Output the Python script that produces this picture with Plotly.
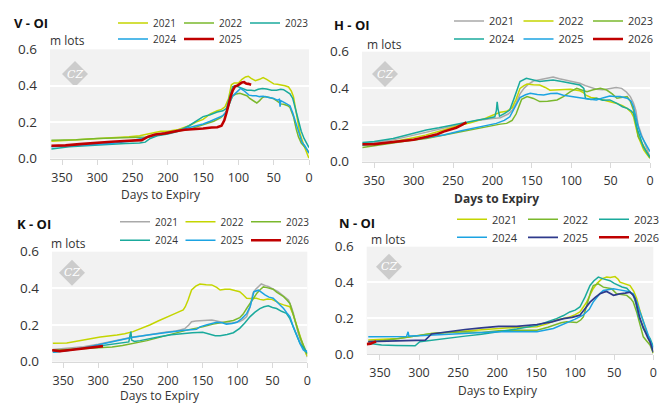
import plotly.graph_objects as go

W, H = 669, 407
OFF = 8                 # the page body margin the browser adds around the figure
FW, FH = W - OFF, H - OFF
FONT = "Open Sans"

# ---------------- data (days to expiry, open interest in m lots) ----------------
# V panel
V_2021_days = [365, 340, 310, 280, 255, 240, 225, 210, 200, 185, 170, 160, 150, 140, 130, 124, 119, 114, 110, 106, 100, 95, 90, 86, 82, 76, 70, 65, 60, 55, 50, 45, 39, 34, 29, 25, 22, 18, 13, 8, 4, 0]
V_2021_oi = [0.095, 0.100, 0.105, 0.112, 0.120, 0.125, 0.138, 0.150, 0.150, 0.160, 0.180, 0.200, 0.215, 0.245, 0.262, 0.270, 0.284, 0.330, 0.405, 0.415, 0.415, 0.435, 0.448, 0.452, 0.440, 0.428, 0.435, 0.445, 0.435, 0.420, 0.410, 0.408, 0.405, 0.400, 0.393, 0.370, 0.340, 0.250, 0.140, 0.080, 0.040, 0.000]
V_2022_days = [365, 330, 300, 270, 250, 230, 210, 190, 170, 150, 135, 125, 118, 113, 108, 103, 98, 93, 88, 84, 79, 74, 70, 66, 62, 57, 51, 45, 40, 36, 30, 27, 22, 18, 15, 11, 7, 3, 0]
V_2022_oi = [0.100, 0.103, 0.110, 0.112, 0.115, 0.118, 0.130, 0.148, 0.160, 0.185, 0.205, 0.225, 0.250, 0.300, 0.345, 0.355, 0.358, 0.352, 0.345, 0.330, 0.315, 0.305, 0.318, 0.335, 0.340, 0.335, 0.330, 0.315, 0.300, 0.298, 0.290, 0.280, 0.230, 0.160, 0.120, 0.085, 0.070, 0.050, 0.030]
V_2023_days = [365, 340, 310, 280, 260, 240, 232, 225, 215, 200, 185, 170, 160, 150, 140, 130, 122, 117, 112, 108, 104, 99, 94, 88, 82, 77, 72, 66, 60, 53, 46, 40, 36, 31, 27, 23, 19, 15, 11, 7, 3, 0]
V_2023_oi = [0.052, 0.065, 0.072, 0.080, 0.083, 0.085, 0.090, 0.110, 0.125, 0.135, 0.150, 0.180, 0.205, 0.230, 0.240, 0.255, 0.262, 0.275, 0.345, 0.395, 0.400, 0.392, 0.385, 0.375, 0.375, 0.372, 0.380, 0.385, 0.382, 0.375, 0.375, 0.380, 0.378, 0.365, 0.355, 0.330, 0.270, 0.200, 0.150, 0.110, 0.080, 0.060]
V_2024_days = [365, 340, 310, 280, 255, 235, 220, 205, 190, 175, 160, 150, 140, 130, 122, 117, 113, 109, 105, 101, 97, 93, 89, 85, 80, 75, 70, 65, 60, 55, 50, 45, 42, 41, 40, 36, 32, 27, 23, 19, 16, 13, 10, 6, 3, 0]
V_2024_oi = [0.065, 0.070, 0.075, 0.082, 0.095, 0.110, 0.125, 0.140, 0.150, 0.165, 0.180, 0.190, 0.205, 0.220, 0.235, 0.260, 0.300, 0.340, 0.355, 0.370, 0.385, 0.375, 0.360, 0.348, 0.345, 0.345, 0.340, 0.342, 0.338, 0.335, 0.330, 0.320, 0.325, 0.285, 0.318, 0.310, 0.300, 0.290, 0.250, 0.200, 0.160, 0.120, 0.090, 0.070, 0.050, 0.030]
V_2025_days = [365, 345, 325, 303, 280, 262, 250, 237, 228, 218, 204, 194, 185, 176, 165, 150, 138, 130, 124, 120, 117, 114, 111, 108, 105, 101, 98, 95, 92, 89, 86, 82]
V_2025_oi = [0.070, 0.072, 0.079, 0.087, 0.092, 0.096, 0.098, 0.101, 0.120, 0.132, 0.138, 0.147, 0.152, 0.158, 0.160, 0.165, 0.170, 0.172, 0.180, 0.210, 0.250, 0.300, 0.340, 0.375, 0.395, 0.402, 0.410, 0.418, 0.420, 0.412, 0.410, 0.405]

# H panel
H_2021_days = [365, 350, 330, 300, 280, 260, 240, 220, 200, 190, 180, 175, 170, 165, 160, 155, 148, 140, 130, 123, 115, 106, 98, 89, 82, 76, 68, 60, 50, 43, 36, 30, 25, 21, 18, 15, 11, 6, 3, 0]
H_2021_oi = [0.100, 0.108, 0.115, 0.145, 0.165, 0.185, 0.205, 0.225, 0.235, 0.240, 0.260, 0.280, 0.320, 0.370, 0.400, 0.420, 0.440, 0.448, 0.455, 0.462, 0.452, 0.445, 0.435, 0.428, 0.415, 0.405, 0.395, 0.392, 0.400, 0.405, 0.400, 0.380, 0.355, 0.320, 0.280, 0.200, 0.150, 0.100, 0.060, 0.025]
H_2022_days = [365, 340, 305, 285, 262, 245, 228, 210, 199, 190, 182, 175, 170, 165, 160, 156, 148, 140, 133, 127, 115, 101, 89, 84, 82, 75, 68, 59, 50, 42, 35, 29, 24, 21, 18, 15, 11, 8, 4, 0]
H_2022_oi = [0.090, 0.098, 0.127, 0.145, 0.173, 0.195, 0.212, 0.235, 0.255, 0.270, 0.275, 0.295, 0.340, 0.400, 0.415, 0.424, 0.420, 0.418, 0.405, 0.390, 0.392, 0.395, 0.387, 0.375, 0.364, 0.350, 0.346, 0.337, 0.330, 0.318, 0.305, 0.291, 0.270, 0.246, 0.190, 0.137, 0.095, 0.064, 0.040, 0.019]
H_2023_days = [365, 350, 326, 305, 284, 262, 241, 220, 199, 190, 182, 175, 170, 167, 163, 156, 148, 140, 130, 118, 110, 101, 93, 86, 80, 72, 63, 55, 48, 42, 35, 29, 25, 21, 18, 15, 10, 4, 0]
H_2023_oi = [0.078, 0.088, 0.100, 0.115, 0.127, 0.145, 0.164, 0.182, 0.200, 0.205, 0.209, 0.225, 0.260, 0.300, 0.340, 0.355, 0.345, 0.328, 0.330, 0.337, 0.355, 0.382, 0.400, 0.390, 0.382, 0.392, 0.400, 0.391, 0.370, 0.346, 0.350, 0.355, 0.330, 0.282, 0.220, 0.137, 0.100, 0.055, 0.020]
H_2024_days = [365, 350, 326, 305, 284, 268, 252, 240, 230, 218, 207, 197, 195, 194, 193, 191, 185, 178, 173, 168, 165, 157, 150, 140, 132, 123, 112, 101, 89, 84, 82, 75, 68, 60, 51, 42, 35, 29, 24, 21, 17, 13, 8.5, 4, 0]
H_2024_oi = [0.105, 0.110, 0.127, 0.150, 0.173, 0.185, 0.200, 0.210, 0.218, 0.228, 0.236, 0.245, 0.280, 0.327, 0.290, 0.248, 0.262, 0.282, 0.340, 0.400, 0.437, 0.455, 0.446, 0.437, 0.442, 0.446, 0.437, 0.428, 0.418, 0.400, 0.346, 0.340, 0.346, 0.335, 0.337, 0.318, 0.300, 0.291, 0.278, 0.264, 0.190, 0.140, 0.082, 0.050, 0.025]
H_2025_days = [365, 340, 305, 285, 262, 241, 220, 205, 195, 185, 178, 173, 169, 165, 158, 152, 143, 135, 126, 118, 110, 101, 93, 85, 76, 68, 60, 51, 45, 38, 29, 24, 21, 18, 15, 11, 6, 3, 0]
H_2025_oi = [0.090, 0.100, 0.118, 0.130, 0.146, 0.168, 0.188, 0.200, 0.209, 0.225, 0.245, 0.285, 0.318, 0.350, 0.365, 0.373, 0.366, 0.364, 0.372, 0.373, 0.362, 0.355, 0.350, 0.346, 0.340, 0.337, 0.348, 0.358, 0.356, 0.355, 0.346, 0.330, 0.300, 0.240, 0.190, 0.140, 0.100, 0.075, 0.055]
H_2026_days = [365, 350, 326, 300, 284, 270, 262, 252, 246, 240, 236, 233]
H_2026_oi = [0.095, 0.096, 0.107, 0.120, 0.135, 0.150, 0.164, 0.178, 0.185, 0.198, 0.208, 0.215]

# K panel
K_2021_days = [365, 345, 321, 300, 285, 273, 262, 250, 238, 226, 214, 202, 188, 176, 170, 166, 160, 154, 145, 137, 130, 122, 116, 106, 97, 92, 87, 82, 78, 74, 70, 66, 60, 56, 50, 42, 35, 27, 23, 20, 16, 13, 8, 3.5, 0]
K_2021_oi = [0.067, 0.072, 0.082, 0.095, 0.108, 0.118, 0.128, 0.135, 0.140, 0.148, 0.155, 0.162, 0.168, 0.180, 0.200, 0.218, 0.222, 0.224, 0.226, 0.228, 0.222, 0.215, 0.210, 0.212, 0.219, 0.230, 0.246, 0.300, 0.375, 0.395, 0.410, 0.424, 0.415, 0.410, 0.398, 0.382, 0.360, 0.337, 0.300, 0.264, 0.200, 0.155, 0.100, 0.064, 0.025]
K_2022_days = [365, 345, 321, 297, 273, 262, 250, 238, 226, 214, 202, 190, 178, 175, 171, 168, 166, 160, 154, 145, 137, 130, 125, 118, 111, 104, 97, 92, 87, 80, 73, 68, 63, 57, 51, 45, 40, 34, 25, 21, 18, 14, 10.5, 6, 3, 0]
K_2022_oi = [0.100, 0.102, 0.118, 0.135, 0.146, 0.152, 0.164, 0.180, 0.200, 0.222, 0.244, 0.262, 0.282, 0.300, 0.337, 0.370, 0.391, 0.412, 0.424, 0.420, 0.419, 0.405, 0.391, 0.395, 0.395, 0.388, 0.382, 0.365, 0.346, 0.345, 0.346, 0.340, 0.337, 0.342, 0.340, 0.330, 0.318, 0.310, 0.300, 0.265, 0.228, 0.180, 0.137, 0.085, 0.055, 0.030]
K_2023_days = [365, 340, 320, 300, 280, 265, 250, 230, 215, 200, 185, 170, 150, 135, 120, 106, 97, 92, 87, 82, 77.5, 72, 67, 63, 58, 53, 49, 44, 38, 34, 29, 25, 20, 15, 10, 5, 1, 0]
K_2023_oi = [0.062, 0.068, 0.072, 0.078, 0.080, 0.088, 0.098, 0.115, 0.130, 0.145, 0.160, 0.175, 0.190, 0.205, 0.215, 0.225, 0.240, 0.260, 0.290, 0.320, 0.346, 0.375, 0.395, 0.408, 0.404, 0.398, 0.395, 0.380, 0.365, 0.355, 0.335, 0.318, 0.255, 0.191, 0.130, 0.085, 0.050, 0.040]
K_2024_days = [365, 345, 321, 297, 273, 262, 256, 254, 253, 252, 248, 240, 226, 210, 195, 178, 165, 150, 140, 132, 125, 115, 106, 100, 97, 90, 82, 75, 68, 62, 56, 50, 44, 37, 30, 25, 20, 15, 10.5, 5, 2, 0]
K_2024_oi = [0.052, 0.062, 0.075, 0.088, 0.100, 0.105, 0.108, 0.150, 0.164, 0.118, 0.110, 0.115, 0.127, 0.137, 0.147, 0.155, 0.158, 0.160, 0.152, 0.142, 0.142, 0.148, 0.158, 0.172, 0.182, 0.210, 0.246, 0.270, 0.290, 0.300, 0.305, 0.296, 0.290, 0.275, 0.264, 0.235, 0.191, 0.140, 0.100, 0.075, 0.060, 0.045]
K_2025_days = [365, 345, 321, 297, 273, 250, 226, 202, 180, 159, 154, 145, 130, 122, 116, 108, 101, 94, 87, 82, 80, 76.5, 70, 65, 60.7, 55, 49, 42, 34, 29, 25, 20, 15, 10, 5.7, 2, 0]
K_2025_oi = [0.052, 0.060, 0.075, 0.095, 0.115, 0.133, 0.147, 0.160, 0.170, 0.177, 0.190, 0.200, 0.215, 0.212, 0.205, 0.208, 0.215, 0.235, 0.262, 0.300, 0.328, 0.382, 0.390, 0.375, 0.364, 0.352, 0.346, 0.320, 0.290, 0.265, 0.246, 0.190, 0.137, 0.095, 0.064, 0.055, 0.060]
K_2026_days = [366, 355, 340, 325, 310, 293]
K_2026_oi = [0.062, 0.058, 0.064, 0.071, 0.078, 0.085]

# N panel
N_2021_days = [365, 345, 326, 305, 284, 262, 241, 220, 198, 175, 149, 135, 124, 115, 107, 100, 94, 90, 85.4, 81, 77, 72, 66, 59.7, 55, 49, 45, 42.6, 36, 29.8, 25, 21.3, 17, 12.8, 9, 6.4, 3, 0]
N_2021_oi = [0.078, 0.082, 0.087, 0.100, 0.115, 0.122, 0.130, 0.138, 0.143, 0.148, 0.152, 0.170, 0.190, 0.198, 0.207, 0.220, 0.235, 0.260, 0.290, 0.330, 0.365, 0.395, 0.420, 0.430, 0.428, 0.433, 0.418, 0.402, 0.392, 0.383, 0.350, 0.310, 0.240, 0.180, 0.130, 0.087, 0.040, 0.005]
N_2022_days = [365, 345, 326, 305, 284, 262, 241, 220, 198, 175, 149, 135, 128, 118, 111, 104, 98, 93, 89.6, 86, 83, 80, 76.8, 70.4, 64, 59, 53.3, 47, 40, 34, 29, 25.6, 21, 17, 12.8, 8, 4.2, 0]
N_2022_oi = [0.069, 0.076, 0.087, 0.100, 0.115, 0.120, 0.124, 0.120, 0.130, 0.133, 0.133, 0.150, 0.160, 0.175, 0.180, 0.178, 0.176, 0.190, 0.207, 0.260, 0.310, 0.350, 0.383, 0.392, 0.374, 0.368, 0.365, 0.337, 0.330, 0.328, 0.310, 0.290, 0.230, 0.160, 0.096, 0.070, 0.050, 0.005]
N_2023_days = [365, 348, 330, 315, 305, 299, 284, 262, 241, 220, 198, 175, 149, 135, 124, 115, 107, 100, 94, 87.5, 81, 76, 70.4, 64, 60, 55.4, 50, 44.8, 40, 34, 29, 25.6, 22, 19.2, 15, 12.8, 8, 4.2, 0]
N_2023_oi = [0.060, 0.050, 0.048, 0.046, 0.046, 0.069, 0.078, 0.090, 0.100, 0.110, 0.124, 0.140, 0.160, 0.180, 0.198, 0.215, 0.235, 0.245, 0.263, 0.318, 0.383, 0.410, 0.430, 0.420, 0.415, 0.410, 0.395, 0.383, 0.375, 0.368, 0.345, 0.328, 0.280, 0.217, 0.170, 0.142, 0.110, 0.087, 0.040]
N_2024_days = [365, 345, 326, 316, 314, 313, 300, 284, 262, 241, 220, 198, 175, 149, 128, 118, 107, 100, 90, 82, 77, 72.5, 68, 64, 57, 51, 45, 38.4, 32, 25.6, 21, 17, 12, 8.5, 4, 0]
N_2024_oi = [0.096, 0.096, 0.096, 0.098, 0.124, 0.100, 0.102, 0.106, 0.110, 0.115, 0.118, 0.124, 0.124, 0.124, 0.143, 0.160, 0.180, 0.195, 0.217, 0.250, 0.290, 0.318, 0.340, 0.355, 0.362, 0.365, 0.360, 0.355, 0.350, 0.337, 0.290, 0.235, 0.170, 0.124, 0.075, 0.031]
N_2025_days = [365, 345, 326, 305, 292, 284, 275, 260, 241, 220, 198, 175, 149, 130, 115, 104, 94, 88, 81, 74, 68.3, 63, 59.7, 55, 51, 47, 42.6, 36, 29.8, 26, 23.4, 20, 17, 13, 10.6, 7, 4.2, 2, 0]
N_2025_oi = [0.069, 0.072, 0.074, 0.076, 0.078, 0.112, 0.118, 0.128, 0.137, 0.146, 0.155, 0.155, 0.165, 0.180, 0.198, 0.205, 0.217, 0.250, 0.290, 0.318, 0.337, 0.346, 0.350, 0.338, 0.328, 0.332, 0.337, 0.340, 0.346, 0.330, 0.310, 0.250, 0.198, 0.150, 0.124, 0.090, 0.068, 0.030, 0.010]
N_2026_days = [367, 362, 358, 355]
N_2026_oi = [0.055, 0.058, 0.065, 0.070]

X_TICKS = [0, 50, 100, 150, 200, 250, 300, 350]
Y_TICKS = [0.0, 0.2, 0.4, 0.6]

# ---------------- styles ----------------
C_YG = "#c4d500"
C_GREEN = "#7ab82c"
C_TEAL = "#1aaa9c"
C_BLUE = "#1ba3e2"
C_RED = "#c00000"
C_GREY = "#a9a9a9"
C_NAVY = "#2e3a8c"

panels = [
    dict(ax="", title="V - OI", box=(50, 309, 49.3, 158.5), xmax=367,
         leg=(153, 23, 39, 66, 10), xt=(160.5, 194, False), logo=(75, 74),
         series=[("2021", V_2021_days, V_2021_oi, C_YG, 1.5),
                 ("2022", V_2022_days, V_2022_oi, C_GREEN, 1.5),
                 ("2023", V_2023_days, V_2023_oi, C_TEAL, 1.5),
                 ("2024", V_2024_days, V_2024_oi, C_BLUE, 1.5),
                 ("2025", V_2025_days, V_2025_oi, C_RED, 2.6)],
         head=((12, 23), (48, 40))),
    dict(ax="2", title="H - OI", box=(362, 650, 51.7, 161.7), xmax=365.6,
         leg=(489, 21, 39, 69.5, 11), xt=(496, 198, True), logo=(385, 74),
         series=[("2021", H_2021_days, H_2021_oi, C_GREY, 1.5),
                 ("2022", H_2022_days, H_2022_oi, C_YG, 1.5),
                 ("2023", H_2023_days, H_2023_oi, C_GREEN, 1.5),
                 ("2024", H_2024_days, H_2024_oi, C_TEAL, 1.5),
                 ("2025", H_2025_days, H_2025_oi, C_BLUE, 1.5),
                 ("2026", H_2026_days, H_2026_oi, C_RED, 2.6)],
         head=((332, 25), (365, 44))),
    dict(ax="3", title="K - OI", box=(52, 307.3, 251.7, 361.7), xmax=366.2,
         leg=(155, 221.7, 240.3, 65.5, 10), xt=(160, 395, False), logo=(72, 272.7),
         series=[("2021", K_2021_days, K_2021_oi, C_GREY, 1.5),
                 ("2022", K_2022_days, K_2022_oi, C_YG, 1.5),
                 ("2023", K_2023_days, K_2023_oi, C_GREEN, 1.5),
                 ("2024", K_2024_days, K_2024_oi, C_TEAL, 1.5),
                 ("2025", K_2025_days, K_2025_oi, C_BLUE, 1.5),
                 ("2026", K_2026_days, K_2026_oi, C_RED, 2.6)],
         head=((15, 224), (49, 243))),
    dict(ax="4", title="N - OI", box=(366.7, 653.3, 246.7, 354), xmax=367,
         leg=(492, 219.3, 237.3, 71, 11), xt=(497.7, 390, False), logo=(389, 266.7),
         series=[("2021", N_2021_days, N_2021_oi, C_YG, 1.5),
                 ("2022", N_2022_days, N_2022_oi, C_GREEN, 1.5),
                 ("2023", N_2023_days, N_2023_oi, C_TEAL, 1.5),
                 ("2024", N_2024_days, N_2024_oi, C_BLUE, 1.5),
                 ("2025", N_2025_days, N_2025_oi, C_NAVY, 1.7),
                 ("2026", N_2026_days, N_2026_oi, C_RED, 2.6)],
         head=((337, 223), (369, 239))),
]


def px_x(v):
    return (v - OFF) / FW


def px_y(v):
    return 1 - (v - OFF) / FH


fig = go.Figure()
layout = dict(
    width=FW, height=FH, margin=dict(l=0, r=0, t=0, b=0, autoexpand=False),
    paper_bgcolor="white", plot_bgcolor="#f2f2f2",
    font=dict(family=FONT, size=12, color="#333333"),
)
annotations = []
shapes = []
leg_n = 0
for p in panels:
    a = p["ax"]
    l, r, t, b = p["box"]
    xa = "xaxis" + a
    ya = "yaxis" + a
    layout[xa] = dict(domain=[px_x(l), px_x(r)], anchor="y" + a, range=[p["xmax"], 0],
                      tickvals=X_TICKS, ticks="outside", ticklen=5, tickcolor="#d9d9d9",
                      showline=True, linecolor="#d9d9d9", linewidth=1, showgrid=False,
                      zeroline=False, tickfont=dict(size=12.5, color="#333333"),
                      ticklabelstandoff=2, fixedrange=True)
    layout[ya] = dict(domain=[px_y(b), px_y(t)], anchor="x" + a, range=[0, 0.6],
                      tickvals=Y_TICKS, tickformat=".1f", ticks="", showgrid=True,
                      gridcolor="white", gridwidth=1.5, zeroline=False, showline=False,
                      tickfont=dict(size=13.5, color="#333333"), ticklabelstandoff=12,
                      fixedrange=True)
    tx, row1, row2, ew, fs = p["leg"]
    ids = []
    for k in range(2):
        leg_n += 1
        lid = "legend" if leg_n == 1 else f"legend{leg_n}"
        ids.append(lid)
        layout[lid] = dict(orientation="h", xref="container", yref="container",
                           x=px_x(tx - 40), y=px_y(row1 if k == 0 else row2),
                           xanchor="left", yanchor="middle", bgcolor="rgba(0,0,0,0)",
                           font=dict(family=FONT, size=fs, color="#333333"),
                           entrywidth=ew - 45, entrywidthmode="pixels", itemwidth=30,
                           borderwidth=0, tracegroupgap=0)
    for i, (name, d, v, c, w) in enumerate(p["series"]):
        fig.add_trace(go.Scatter(x=d, y=v, mode="lines", name=name,
                                 line=dict(color=c, width=w),
                                 legend=ids[0] if i < 3 else ids[1],
                                 xaxis="x" + a, yaxis="y" + a, hoverinfo="skip"))
    (hx, hy), (mx, my) = p["head"]
    annotations.append(dict(text="<b>" + p["title"] + "</b>", x=px_x(hx), y=px_y(hy),
                            xref="paper", yref="paper", xanchor="left", yanchor="middle",
                            showarrow=False, font=dict(size=13, color="#111111")))
    annotations.append(dict(text="m lots", x=px_x(mx), y=px_y(my), xref="paper", yref="paper",
                            xanchor="left", yanchor="middle", showarrow=False,
                            font=dict(size=12, color="#333333")))
    ttx, tty, bold = p["xt"]
    annotations.append(dict(text=("<b>Days to Expiry</b>" if bold else "Days to Expiry"),
                            x=px_x(ttx), y=px_y(tty), xref="paper", yref="paper",
                            xanchor="center", yanchor="middle", showarrow=False,
                            font=dict(size=12, color="#333333")))
    cx, cy = p["logo"]
    s = 13
    path = (f"M {px_x(cx)} {px_y(cy - s)} L {px_x(cx + s)} {px_y(cy)} "
            f"L {px_x(cx)} {px_y(cy + s)} L {px_x(cx - s)} {px_y(cy)} Z")
    shapes.append(dict(type="path", path=path, xref="paper", yref="paper",
                       fillcolor="#cccccc", line=dict(width=0), layer="below"))
    annotations.append(dict(text="<i>CZ</i>", x=px_x(cx), y=px_y(cy), xref="paper", yref="paper",
                            xanchor="center", yanchor="middle", showarrow=False,
                            font=dict(family="DejaVu Serif", size=11, color="white")))

layout["annotations"] = annotations
layout["shapes"] = shapes
fig.update_layout(**layout)
fig.write_html("out.html")
